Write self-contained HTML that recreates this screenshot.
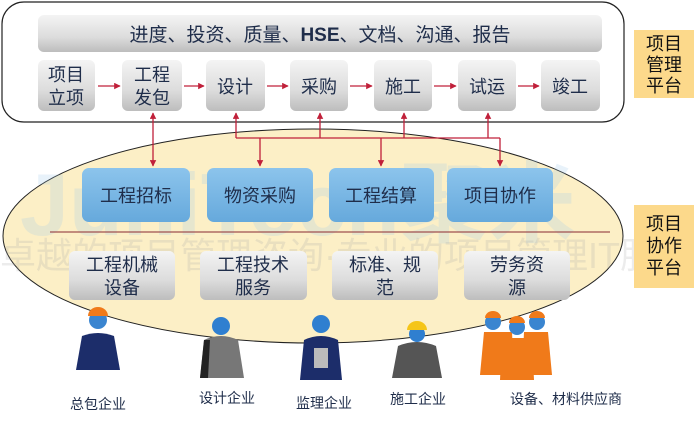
<!DOCTYPE html>
<html><head><meta charset="utf-8"><style>
body{margin:0;width:700px;height:433px;background:#fff;overflow:hidden;font-family:"Liberation Sans","Noto Sans CJK SC",sans-serif;}
</style></head><body>
<svg width="700" height="433" viewBox="0 0 700 433" xmlns="http://www.w3.org/2000/svg" font-family="Liberation Sans, Noto Sans CJK SC, sans-serif">
<defs>
<linearGradient id="g" x1="0" y1="0" x2="0" y2="1"><stop offset="0" stop-color="#f4f4f4"/><stop offset="0.6" stop-color="#dcdcdc"/><stop offset="1" stop-color="#bdbdbd"/></linearGradient>
<linearGradient id="b" x1="0" y1="0" x2="0" y2="1"><stop offset="0" stop-color="#8cc4ec"/><stop offset="1" stop-color="#66a9dc"/></linearGradient>
<marker id="a" viewBox="0 0 10 10" refX="9" refY="5" markerWidth="5" markerHeight="5" orient="auto-start-reverse"><path d="M0,0L10,5L0,10z" fill="#c0203a"/></marker>
</defs>
<ellipse cx="313" cy="236" rx="310" ry="107" fill="#fcefc6" stroke="#222" stroke-width="1"/>
<text x="20" y="235" font-size="88" font-weight="bold" fill="#9cc8ea" opacity="0.22">JuniTech聚米</text>
<text x="0" y="268" font-size="36" fill="#aaa" opacity="0.22">卓越的项目管理咨询·专业的项目管理IT服</text>
<rect x="2" y="2" width="622" height="120" rx="22" fill="#fff" stroke="#222" stroke-width="1.2"/>
<rect x="38" y="15" width="564" height="37" rx="6" fill="url(#g)"/>
<text x="320" y="41" font-size="19" text-anchor="middle" fill="#1f2d4a">进度、投资、质量、<tspan font-weight="bold">HSE</tspan>、文档、沟通、报告</text>
<g fill="url(#g)">
<rect x="38" y="60" width="57" height="51" rx="6"/><rect x="122" y="60" width="60" height="51" rx="6"/>
<rect x="206" y="60" width="59" height="51" rx="6"/><rect x="290" y="60" width="58" height="51" rx="6"/>
<rect x="374" y="60" width="58" height="51" rx="6"/><rect x="458" y="60" width="58" height="51" rx="6"/>
<rect x="541" y="60" width="59" height="51" rx="6"/></g>
<g font-size="18" text-anchor="middle" fill="#1f2d4a">
<text x="66" y="81">项目</text><text x="66" y="104">立项</text>
<text x="152" y="81">工程</text><text x="152" y="104">发包</text>
<text x="235" y="93">设计</text><text x="319" y="93">采购</text><text x="403" y="93">施工</text><text x="487" y="93">试运</text><text x="570" y="93">竣工</text></g>
<g stroke="#c0203a" stroke-width="1.3" fill="none">
<line x1="98" y1="86" x2="120" y2="86" marker-end="url(#a)"/><line x1="184" y1="86" x2="204" y2="86" marker-end="url(#a)"/>
<line x1="267" y1="86" x2="288" y2="86" marker-end="url(#a)"/><line x1="350" y1="86" x2="372" y2="86" marker-end="url(#a)"/>
<line x1="434" y1="86" x2="456" y2="86" marker-end="url(#a)"/><line x1="518" y1="86" x2="539" y2="86" marker-end="url(#a)"/>
<line x1="153" y1="113" x2="153" y2="166" marker-start="url(#a)" marker-end="url(#a)"/>
<polyline points="236,138 500,138"/>
<line x1="236" y1="138" x2="236" y2="113" marker-end="url(#a)"/><line x1="320" y1="138" x2="320" y2="113" marker-end="url(#a)"/>
<line x1="404" y1="138" x2="404" y2="113" marker-end="url(#a)"/><line x1="488" y1="138" x2="488" y2="113" marker-end="url(#a)"/>
<line x1="260" y1="138" x2="260" y2="166" marker-end="url(#a)"/><line x1="381" y1="138" x2="381" y2="166" marker-end="url(#a)"/>
<line x1="500" y1="138" x2="500" y2="166" marker-end="url(#a)"/>
</g>
<g fill="url(#b)">
<rect x="82" y="168" width="108" height="54" rx="7"/><rect x="207" y="168" width="106" height="54" rx="7"/>
<rect x="329" y="168" width="105" height="54" rx="7"/><rect x="447" y="168" width="106" height="54" rx="7"/></g>
<g font-size="18" text-anchor="middle" fill="#1f2d4a">
<text x="136" y="202">工程招标</text><text x="260" y="202">物资采购</text><text x="381" y="202">工程结算</text><text x="500" y="202">项目协作</text></g>
<line x1="50" y1="232" x2="610" y2="232" stroke="#a05050" stroke-width="1.2"/>
<g fill="url(#g)">
<rect x="69" y="251" width="106" height="49" rx="6"/><rect x="200" y="251" width="107" height="49" rx="6"/>
<rect x="332" y="251" width="106" height="49" rx="6"/><rect x="464" y="251" width="106" height="49" rx="6"/></g>
<g font-size="18" text-anchor="middle" fill="#1f2d4a">
<text x="122" y="271">工程机械</text><text x="122" y="294">设备</text>
<text x="253" y="271">工程技术</text><text x="253" y="294">服务</text>
<text x="385" y="271">标准、规</text><text x="385" y="294">范</text>
<text x="517" y="271">劳务资</text><text x="517" y="294">源</text></g>
<rect x="634" y="30" width="60" height="68" fill="#fcd98b"/>
<rect x="634" y="205" width="60" height="83" fill="#fcd98b"/>
<g font-size="18" text-anchor="middle" fill="#111">
<text x="664" y="50">项目</text><text x="664" y="71">管理</text><text x="664" y="92">平台</text>
<text x="664" y="230">项目</text><text x="664" y="252">协作</text><text x="664" y="274">平台</text></g>
<g>
<circle cx="98" cy="320" r="9" fill="#3a85d0"/><path d="M88,316a10,9 0 0 1 20,0z" fill="#f07a1a"/>
<path d="M76,370 L82,336 Q98,330 114,336 L120,370z" fill="#1c2d6a"/>
<circle cx="221" cy="326" r="9" fill="#2f7fd0"/><path d="M200,378 L204,340 Q221,332 238,340 L244,378z" fill="#777"/><path d="M200,378 L204,340 L210,340 L208,378z" fill="#222"/>
<circle cx="321" cy="324" r="9" fill="#2f7fd0"/><path d="M300,380 L304,340 Q321,332 338,340 L342,380z" fill="#1c2d6a"/><rect x="314" y="348" width="14" height="20" fill="#bbb"/>
<circle cx="417" cy="334" r="8" fill="#2f7fd0"/><path d="M407,330a10,9 0 0 1 20,0z" fill="#f5c518"/><path d="M392,378 L398,346 Q417,338 436,346 L442,378z" fill="#555"/>
<g fill="#f07a1a"><path d="M480,375 L484,332 L512,332 L514,375z"/><path d="M522,375 L524,332 L548,332 L552,375z"/><path d="M500,380 L502,338 L532,338 L534,380z"/></g>
<g fill="#3a85d0"><circle cx="493" cy="322" r="8"/><circle cx="517" cy="327" r="8"/><circle cx="537" cy="322" r="8"/></g>
<g fill="#f07a1a"><path d="M485,318a8,7 0 0 1 16,0z"/><path d="M509,323a8,7 0 0 1 16,0z"/><path d="M529,318a8,7 0 0 1 16,0z"/></g>
</g>
<g font-size="14" fill="#1f2d4a" text-anchor="middle">
<text x="98" y="409">总包企业</text><text x="227" y="403">设计企业</text><text x="324" y="408">监理企业</text>
<text x="418" y="404">施工企业</text><text x="566" y="404">设备、材料供应商</text></g>
</svg>
</body></html>
